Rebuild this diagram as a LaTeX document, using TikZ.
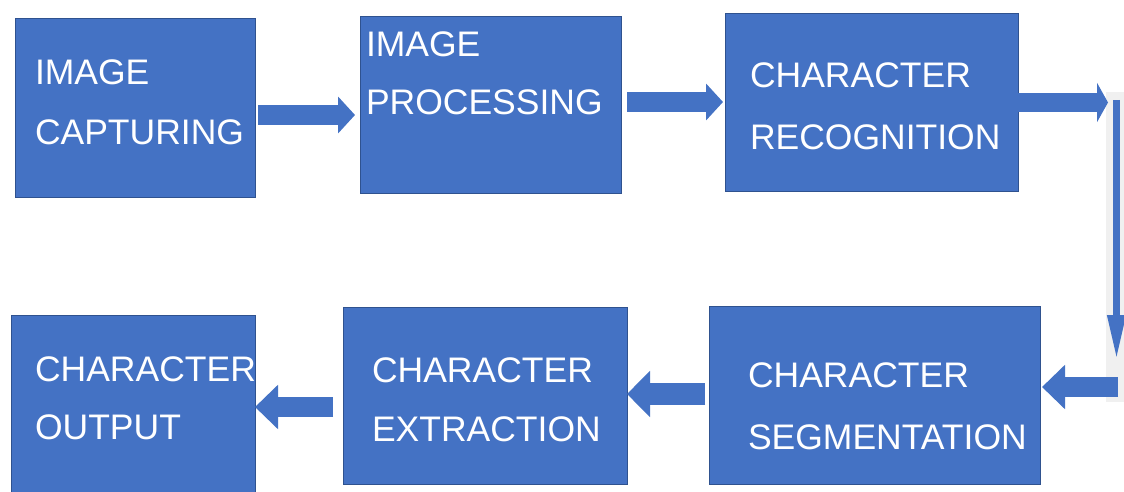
\documentclass[tikz,border=0pt]{standalone}
\usepackage{fontspec}
\setmainfont{Liberation Sans}
\usetikzlibrary{arrows.meta}
\definecolor{boxblue}{HTML}{4472C4}
\definecolor{boxedge}{HTML}{2F528F}
\definecolor{paleshadow}{HTML}{F0F0F0}
\tikzset{
  box/.style={draw=boxedge, line width=0.8pt, fill=boxblue, rectangle, inner sep=0pt, outer sep=0pt, anchor=north west},
  lbl/.style={text=white, align=left, inner sep=0pt, outer sep=0pt, anchor=north west, font=\fontsize{35.5}{#1}\selectfont},
  lbl/.default=59,
  blockarrow/.style={draw=boxblue, line width=20pt, -{Triangle[length=17pt,width=36pt,fill=boxblue]}},
}
\begin{document}
\begin{tikzpicture}[x=1pt,y=-1pt]
\clip (0,0) rectangle (1124,492);
\fill[white] (0,0) rectangle (1124,492);
% pale shadow behind vertical connector
\fill[paleshadow] (1106,92) rectangle (1124,402);
% boxes
\node[box, minimum width=240pt, minimum height=179pt] (n1) at (15,18) {};
\node[box, minimum width=261pt, minimum height=177pt] (n2) at (360,16) {};
\node[box, minimum width=293pt, minimum height=178pt] (n3) at (725,13) {};
\node[box, minimum width=244pt, minimum height=185pt] (n4) at (11,315) {};
\node[box, minimum width=284pt, minimum height=177pt] (n5) at (343,307) {};
\node[box, minimum width=331pt, minimum height=178pt] (n6) at (709,306) {};
% labels
\node[lbl=60] (t1) at (35,60) {IMAGE\\CAPTURING};
\node[lbl=58] (t2) at (366,32) {IMAGE\\PROCESSING};
\node[lbl=62] (t3) at (750,63) {CHARACTER\\RECOGNITION};
\node[lbl=58] (t4) at (35,357) {CHARACTER\\OUTPUT};
\node[lbl=59] (t5) at (372,358) {CHARACTER\\EXTRACTION};
\node[lbl=62] (t6) at (748,363) {CHARACTER\\SEGMENTATION};
% free ends of the right-hand connector
\coordinate (r0) at (1108,102.5);
\coordinate (r1) at (1116.5,100);
\coordinate (r2) at (1116.5,360);
\coordinate (r3) at (1118,387);
% connectors
\draw[blockarrow] ([xshift=3pt]n1.east |- 0,115) -- ([xshift=-5pt]n2.west |- 0,115);
\draw[blockarrow] ([xshift=6pt]n2.east |- 0,102) -- ([xshift=-2pt]n3.west |- 0,102);
\draw[draw=boxblue, line width=19pt, -{Triangle[length=11pt,width=39pt,fill=boxblue]}] (n3.east |- r0) -- (r0);
\draw[draw=boxblue, line width=7pt, -{Triangle[length=45pt,width=17pt,fill=boxblue]}] (r1) -- (r2);
\draw[draw=boxblue, line width=20pt, -{Triangle[length=23pt,width=43pt,fill=boxblue]}] (r3) -- ([xshift=2pt]n6.east |- r3);
\draw[draw=boxblue, line width=22pt, -{Triangle[length=23pt,width=45pt,fill=boxblue]}] ([xshift=-4pt]n6.west |- 0,394) -- (n5.east |- 0,394);
\draw[draw=boxblue, line width=20pt, -{Triangle[length=23pt,width=43pt,fill=boxblue]}] ([xshift=-10pt]n5.west |- 0,407) -- (n4.east |- 0,407);
\end{tikzpicture}
\end{document}
